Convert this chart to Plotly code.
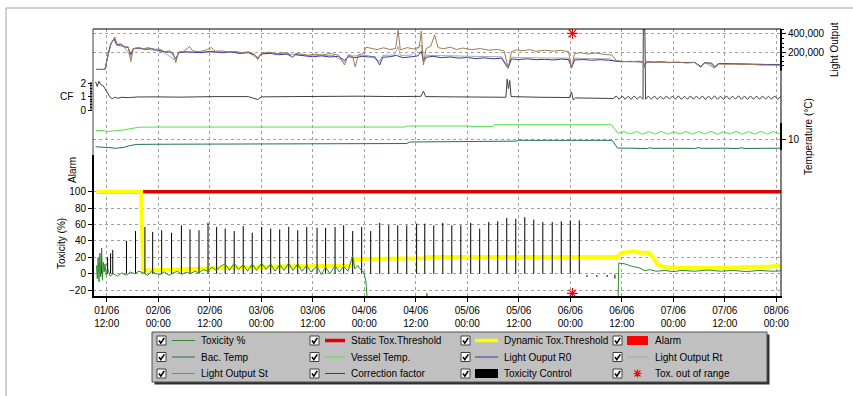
import plotly.graph_objects as go
import pandas as pd

# ---------------- data (hours are offsets from 01/06 09:00) ----------------
BASE = pd.Timestamp("2010-06-01 09:00")
X_START_H, X_END_H = -0.2, 160.1
X_TICK_START = "2010-06-01 12:00"

# light output, in thousands
LIGHT_ST = [(0.5, 12), (2.6, 12), (3.4, 180), (4.0, 290), (4.9, 367), (5.5, 270), (6.3, 280), (7.3, 250),
            (8.0, 262), (8.6, 95), (9.2, 240), (10.5, 250), (11.5, 238), (12.8, 250), (14, 228), (15.2, 236),
            (16.5, 205), (17.6, 215), (18.5, 190), (19.1, 85), (19.7, 200), (21, 212), (22.3, 262), (23, 215),
            (24.5, 205), (26, 222), (27.4, 250), (28.3, 210), (30, 215), (31.5, 198), (33, 210), (34.5, 190),
            (36, 205), (37.5, 175), (38.2, 120), (39, 190), (41, 200), (42.5, 182), (44, 195), (45.5, 185),
            (46.3, 140), (47, 188), (48.5, 178), (50, 165), (51.5, 180), (53, 170), (55, 185), (57, 168),
            (58.4, 60), (59.3, 175), (60.3, 150), (60.9, 40), (61.6, 170), (62.8, 185), (63.4, 255), (64.5, 240),
            (66, 228), (67.5, 248), (69, 230), (70.3, 240), (70.9, 440), (71.4, 225), (73, 250), (74.5, 235),
            (75.8, 255), (76.3, 430), (76.8, 60), (77.4, 240), (78.5, 265), (79.4, 390), (80.2, 250), (81.5, 238),
            (83, 255), (84.5, 230), (86, 245), (88, 228), (90, 240), (92, 222), (94, 230), (95.6, 215),
            (96.5, 25), (97.3, 205), (98.5, 225), (100, 215), (101.5, 228), (103, 210), (105, 222), (107, 212),
            (109, 220), (110.6, 205), (111.3, 25), (112, 185), (113.5, 195), (115, 180), (117, 192), (119, 175),
            (120.7, 170), (121.7, 110), (123, 100), (125, 95), (127, 102), (128.0, 90), (128.3, 30), (128.8, 95),
            (130.5, 88), (132, 92), (134, 85), (136, 92), (138, 82), (140, 88), (141.4, 35), (142.3, 85),
            (143.5, 78), (144.6, 25), (145.6, 72), (147, 68), (149, 72), (151, 65), (153, 68), (155, 60),
            (157, 62), (160, 58)]

LIGHT_R0 = [(0.5, 12), (2.6, 12), (3.4, 200), (4.0, 300), (4.7, 345), (5.3, 280), (6.2, 290), (7.2, 260),
            (8.0, 250), (8.6, 175), (9.2, 240), (10.5, 245), (12, 232), (13.5, 240), (15, 220), (16.5, 205),
            (18, 200), (19.1, 130), (19.8, 195), (21.5, 205), (23, 200), (25, 195), (27, 210), (28.5, 200),
            (30, 195), (32, 205), (34, 185), (36, 195), (37.5, 170), (38.2, 135), (39, 180), (41, 188),
            (43, 172), (45, 180), (46.3, 145), (47, 172), (49, 158), (51, 150), (53, 160), (55, 148),
            (57, 155), (58.4, 110), (59.3, 150), (61, 140), (62.5, 155), (64, 148), (65.5, 150), (66.6, 60),
            (67.3, 145), (69, 150), (70.5, 165), (72, 140), (74, 150), (75.5, 160), (76.3, 210), (76.8, 100),
            (77.5, 145), (79, 155), (81, 140), (83, 148), (85, 135), (87, 142), (89, 130), (91, 138),
            (93, 128), (95, 135), (96.5, 25), (97.3, 125), (99, 120), (101, 128), (103, 118), (105, 122),
            (107, 115), (109, 125), (110.6, 118), (111.3, 35), (112, 115), (114, 120), (116, 112), (118, 118),
            (120, 112), (121.7, 100), (123, 95), (125, 100), (127, 96), (128.0, 92), (128.3, 50), (128.8, 95),
            (130.5, 90), (132, 95), (134, 88), (136, 90), (138, 86), (140, 88), (141.4, 45), (142.3, 85),
            (144, 80), (144.6, 40), (145.6, 78), (147, 76), (149, 74), (151, 72), (153, 70), (155, 68),
            (157, 66), (160, 66)]

LIGHT_RT = [(0.5, 12), (2.6, 12), (3.4, 190), (4.0, 295), (4.8, 350), (5.5, 275), (7, 260), (8.6, 150),
            (9.2, 240), (12, 236), (16, 205), (19.1, 110), (19.8, 198), (24, 200), (28, 205), (32, 200),
            (36, 198), (38.2, 130), (39, 185), (44, 185), (48, 170), (52, 165), (56, 162), (58.4, 90),
            (59.3, 160), (62, 160), (64, 165), (66.6, 100), (67.3, 165), (70, 170), (70.9, 260), (71.4, 165),
            (74, 168), (76.3, 280), (76.8, 90), (77.5, 165), (80, 165), (84, 160), (88, 155), (92, 150),
            (95, 150), (96.5, 30), (97.3, 145), (100, 140), (104, 138), (108, 140), (110.6, 135), (111.3, 30),
            (112, 135), (116, 130), (120, 128), (121.7, 100), (124, 98), (128, 95), (128.3, 40), (128.8, 95),
            (132, 92), (136, 90), (140, 86), (141.4, 40), (142.3, 85), (144.6, 30), (145.6, 75), (150, 68),
            (155, 64), (160, 62)]

CORR_FACTOR = [(0.4, 2.1), (0.8, 1.75), (1.2, 2.15), (1.6, 1.9), (2.2, 1.8), (3.2, 1.3), (3.8, 0.95),
               (4.3, 0.85), (5.0, 0.95), (5.6, 0.88), (6.5, 0.95), (8, 0.92), (10, 0.97), (14, 0.98),
               (20, 0.96), (28, 1.0), (36, 1.0), (38.2, 0.78), (39, 0.98), (46, 1.0), (52, 1.02), (58, 1.0),
               (62, 1.03), (70, 1.0), (76.2, 1.02), (76.8, 1.4), (77.3, 1.0), (84, 0.98), (92, 0.97),
               (96, 0.95), (96.3, 2.3), (96.6, 1.6), (96.9, 2.2), (97.2, 1.0), (104, 0.95), (110.8, 0.93),
               (111.3, 1.35), (111.7, 0.75), (112.2, 0.9), (116, 0.87), (120, 0.85),
               (121.0, 0.86), (121.7, 1.04), (122.4, 0.80), (123.1, 1.05), (123.8, 0.80), (124.5, 1.03),
               (125.2, 0.79), (125.9, 1.05), (126.6, 0.81), (127.3, 1.02), (127.95, 0.80), (128.05, 9.0),
               (128.4, 5.5), (128.55, 0.80), (129.2, 1.04), (129.9, 0.80), (130.6, 1.05), (131.3, 0.79),
               (132.0, 1.03), (132.7, 0.80), (133.4, 1.05), (134.1, 0.81), (134.8, 1.04), (135.5, 0.80),
               (136.2, 1.06), (136.9, 0.79), (137.6, 1.03), (138.3, 0.80), (139.0, 1.05), (139.7, 0.80),
               (140.4, 1.04), (141.1, 0.81), (141.8, 1.05), (142.5, 0.78), (143.2, 1.04), (143.9, 0.80),
               (144.6, 1.06), (145.3, 0.80), (146.0, 1.03), (146.7, 0.79), (147.4, 1.05), (148.1, 0.80),
               (148.8, 1.04), (149.5, 0.81), (150.2, 1.06), (150.9, 0.80), (151.6, 1.04), (152.3, 0.79),
               (153.0, 1.05), (153.7, 0.80), (154.4, 1.04), (155.1, 0.80), (155.8, 1.05), (156.5, 0.81),
               (157.2, 1.03), (157.9, 0.80), (158.6, 1.05), (159.3, 0.80), (160.0, 1.0)]

VESSEL_TEMP = [(0.4, 11.22), (2.5, 11.18), (3.5, 11.05), (4.3, 11.15), (6, 11.2), (7.5, 11.35), (9, 11.55),
               (10.5, 11.65), (14, 11.68), (24, 11.66), (36, 11.7), (48, 11.68), (60, 11.68), (72.4, 11.68),
               (73.0, 11.82), (87.4, 11.82), (87.8, 11.74), (92.8, 11.74), (93.3, 12.0), (120.6, 12.0),
               (122.1, 10.82), (123.5, 11.05), (125.0, 10.72), (126.4, 11.08), (127.9, 10.70), (129.3, 11.06),
               (130.8, 10.72), (132.2, 11.08), (133.7, 10.70), (135.1, 11.05), (136.6, 10.72), (138.0, 11.08),
               (139.5, 10.70), (140.9, 11.06), (142.4, 10.73), (143.8, 11.08), (145.3, 10.70), (146.7, 11.05),
               (148.2, 10.72), (149.6, 11.10), (151.1, 10.70), (152.5, 11.06), (154.0, 10.72), (155.4, 11.08),
               (156.9, 10.70), (158.3, 11.05), (159.8, 10.75)]

BAC_TEMP = [(0.4, 8.98), (2.5, 8.95), (4.0, 8.85), (5.0, 8.76), (6.0, 8.82), (7.0, 8.9), (8.5, 9.15),
            (10.0, 9.3), (14, 9.32), (20, 9.33), (30, 9.36), (40, 9.38), (50, 9.40), (60, 9.41), (72.9, 9.42),
            (73.6, 9.63), (96.0, 9.65), (96.5, 9.73), (98.4, 9.75), (98.9, 9.86), (120.6, 9.86), (121.0, 9.7),
            (121.5, 9.2), (122.0, 8.8), (125, 8.78), (129, 8.74), (129.5, 8.86), (130, 8.76), (135, 8.78),
            (140, 8.75), (141, 8.86), (141.5, 8.76), (147, 8.78), (150, 8.74), (151, 8.84), (151.5, 8.75),
            (156, 8.76), (160, 8.78)]

TOXICITY = [(0.6, 10), (0.8, -6), (1.0, 20), (1.2, -10), (1.4, 25), (1.6, -4), (1.8, 30), (2.0, -8),
            (2.2, 14), (2.4, 2), (2.6, 12), (2.9, -2), (3.3, 5), (3.8, -3), (4.5, 0), (5.5, -3), (6.5, 1),
            (7.5, -2), (8.5, 2), (9.5, 0), (10.5, 3), (11.5, 1), (12.5, -2), (13.5, 3), (14.5, 0),
            (15.5, -1), (16.5, 2), (17.5, -2), (18.5, 1), (19.5, 3), (20.5, -1), (21.5, 2), (22.5, 0),
            (23.5, 3), (24.5, 1), (25.5, 5), (26.5, 3), (27.5, 8), (28.5, 4), (29.5, 9), (30.6, 12),
            (31.6, 4), (32.7, 13), (33.7, 5), (34.8, 11), (35.8, 3), (36.9, 12), (37.9, 4), (39.1, 13),
            (40.1, 5), (41.2, 12), (42.2, 3), (43.3, 11), (44.3, 4), (45.4, 13), (46.4, 4), (47.5, 12),
            (48.5, 3), (49.6, 10), (50.6, 2), (52.0, 9), (53.0, -1), (54.0, 8), (55.0, 0), (56.2, 10),
            (57.2, 2), (58.2, 9), (59.2, 3), (60.3, 22), (60.8, 6), (61.5, 10), (62.3, 4), (62.9, 2),
            (63.4, -10), (63.9, -45), (77.4, -45), (77.6, -24), (77.8, -45), (122.1, -45), (122.3, 13),
            (123.7, 12), (125.4, 9), (127.2, 7), (128.4, 3.5), (129.5, 5), (131, 3), (133, 4), (135, 2.5),
            (137, 4), (140, 3), (143, 4.5), (146, 3), (149, 4), (152, 2.5), (155, 4), (158, 3), (160, 3.5)]

DYN_THRESHOLD = [(0.7, 100), (11.0, 100), (11.5, 4), (14, 4.5), (20, 5.5), (26, 6.5), (32, 7.5), (40, 8.5),
                 (48, 9.2), (55, 9.5), (60.2, 9.6), (60.6, 18), (70, 18.5), (77.4, 18.8), (77.7, 20.5),
                 (100, 20.5), (122.0, 20.5), (122.8, 25), (124.5, 26.5), (125.8, 27.2), (127.5, 25.5),
                 (129.3, 25.5), (130.3, 20), (131.4, 11), (133, 8), (136, 7), (142, 7), (148, 7.5),
                 (153, 8), (157, 8.5), (160, 10)]

STATIC_THRESHOLD = [(0.7, 100), (160.1, 100)]

CTRL_HOURS = [1.8, 3.2, 3.9, 4.4, 7.6, 9.7, 11.9, 13.7, 15.8, 18.1, 20.4, 22.4, 24.5, 26.6, 28.6,
              30.6, 32.7, 34.8, 36.9, 39.1, 41.2, 43.3, 45.4, 47.5,
              49.6, 52.0, 54.0, 56.2, 58.2, 60.3, 62.4, 64.5, 66.6, 68.7, 70.8, 72.9, 75.2, 77.1, 79.2,
              81.3, 83.4, 85.5, 87.8, 89.9, 92.0, 94.1, 96.2, 98.3, 100.4, 102.5, 104.6, 106.8, 108.9,
              111.0, 113.1]
CTRL_HEIGHTS = [31, 20, 25, 29, 40, 52, 57, 51, 53, 50, 59, 54, 53, 62, 57,
                55, 52, 58, 50, 57, 55, 54, 57, 53,
                57, 56, 56, 57, 59, 52, 57, 52, 62, 59, 59, 59, 61, 61, 59,
                62, 59, 59, 62, 55, 63, 64, 68, 67, 69, 66, 63, 63, 64, 65, 65]
CTRL_SMALL = [(114.9, -4, -1.5), (117.2, -4, -1.5), (119.6, -4, -1.5), (121.4, -6, -1)]

OUT_OF_RANGE = [(111.5, 293), (111.5, -24)]

TOX_TICKS = [-20, 0, 20, 40, 60, 80, 100]
CF_TICKS = [0, 1, 2]
CF_MINOR = [0.2, 0.4, 0.6, 0.8, 1.2, 1.4, 1.6, 1.8]
TEMP_TICKS = [10]
LIGHT_TICKS = [200000, 400000]
LIGHT_MINOR = [50000, 100000, 150000, 250000, 300000, 350000, 450000]

C = {
    "tox": "#2f8a2f", "static": "#e00000", "dyn": "#ffff00", "alarm": "#ff0000",
    "bac": "#22704e", "vessel": "#50e050", "r0": "#3838a8", "rt": "#a8a8a8",
    "st": "#a07c50", "cf": "#404040", "ctrl": "#000000", "oor": "#ff0000",
}

LEGEND_ITEMS = [
    ("Toxicity %", "line", C["tox"]), ("Static Tox.Threshold", "thick", C["static"]),
    ("Dynamic Tox.Threshold", "thick", C["dyn"]), ("Alarm", "box", C["alarm"]),
    ("Bac. Temp", "line", C["bac"]), ("Vessel Temp.", "line", C["vessel"]),
    ("Light Ouput R0", "line", C["r0"]), ("Light Output Rt", "line", C["rt"]),
    ("Light Output St", "line", C["st"]), ("Correction factor", "line", C["cf"]),
    ("Toxicity Control", "box", C["ctrl"]), ("Tox. out of range", "star", C["oor"]),
]

# ---------------- geometry (pixels) ----------------
W, H = 853, 396
PL, PR, PT, PB = 93, 781, 29, 297


def fx(px):
    return (px - PL) / (PR - PL)


def fy(py):
    return (PB - py) / (PB - PT)


def axis_range(va, pa, vb, pb):
    k = (vb - va) / (pa - pb)  # value per pixel (upwards)
    return [va - (PB - pa) * k, va + (pa - PT) * k]


def t(h):
    return BASE + pd.Timedelta(hours=h)


def xs(pairs):
    return [t(p[0]) for p in pairs]


def ys(pairs, k=1.0):
    return [p[1] * k for p in pairs]


FONT = dict(family="Liberation Sans, Arial, sans-serif", size=10, color="#000000")
GRID = dict(showgrid=True, gridcolor="#a0a0a0", gridwidth=1, griddash="3px,3px")

fig = go.Figure()


def line(pairs, axis, color, width=1, k=1.0):
    fig.add_trace(go.Scatter(x=xs(pairs), y=ys(pairs, k), yaxis=axis, mode="lines",
                             line=dict(color=color, width=width), showlegend=False, hoverinfo="skip"))


line(LIGHT_RT, "y4", C["rt"], k=1000)
line(LIGHT_R0, "y4", C["r0"], k=1000)
line(LIGHT_ST, "y4", C["st"], k=1000)
line(CORR_FACTOR, "y2", C["cf"])
line(VESSEL_TEMP, "y3", C["vessel"])
line(BAC_TEMP, "y3", C["bac"])
line(STATIC_THRESHOLD, "y", C["static"], width=3.5)
line(DYN_THRESHOLD, "y", C["dyn"], width=4)

bx, by = [], []
for h, v in zip(CTRL_HOURS, CTRL_HEIGHTS):
    bx += [t(h), t(h), None]
    by += [0, v, None]
for h, lo, hi in CTRL_SMALL:
    bx += [t(h), t(h), None]
    by += [lo, hi, None]
fig.add_trace(go.Scatter(x=bx, y=by, mode="lines", line=dict(color=C["ctrl"], width=1),
                         showlegend=False, hoverinfo="skip"))

line(TOXICITY, "y", C["tox"])

fig.add_trace(go.Scatter(x=xs(OUT_OF_RANGE), y=ys(OUT_OF_RANGE), mode="markers",
                         marker=dict(symbol="asterisk-open", size=9, color=C["oor"],
                                     line=dict(color=C["oor"], width=1.2)),
                         showlegend=False, hoverinfo="skip"))

# ---------------- shapes ----------------
shapes = []


def seg(x0, y0, x1, y1, color="#000000", width=1):
    shapes.append(dict(type="line", xref="paper", yref="paper", x0=fx(x0), y0=fy(y0), x1=fx(x1), y1=fy(y1),
                       line=dict(color=color, width=width)))


def rect(x0, y0, x1, y1, fill, color=None, width=0):
    shapes.append(dict(type="rect", xref="paper", yref="paper", x0=fx(x0), y0=fy(y0), x1=fx(x1), y1=fy(y1),
                       fillcolor=fill, line=dict(color=color or fill, width=width)))


def path(points_list, color, width):
    d = ""
    for pts in points_list:
        d += "M " + " L ".join(f"{fx(px):.5f},{fy(py):.5f}" for px, py in pts) + " "
    shapes.append(dict(type="path", xref="paper", yref="paper", path=d.strip(),
                       line=dict(color=color, width=width)))


# outer panel border
seg(6, 8, W, 8, "#a0a0a0", 1)
seg(6, 8, 6, H, "#a0a0a0", 1)

# plot frame & axis segments
seg(PL, PT, PR, PT, "#000000", 1)
seg(PL, PT, PL, PB, "#404040", 1)
seg(PR, PT, PR, PB, "#000000", 1)
seg(PL - 1, PB, PR + 1, PB, "#000000", 2)
seg(PL - 2, 82, PL - 2, 110.5, "#000000", 1)     # CF axis
seg(PL, 155, PL, 186, "#000000", 2)               # Alarm axis
seg(PL, 186, PL, PB, "#000000", 2)                # Toxicity axis
seg(PR, PT, PR, 70.5, "#000000", 2)               # Light output axis
seg(PR, 123, PR, 150, "#000000", 2)               # Temperature axis

# legend
LEG = (152, 332, 767, 382)
COL_CHECK_X = [157, 310, 461, 613]
COL_SAMPLE = [(172, 195), (325, 345), (475, 498), (627, 648)]
COL_TEXT_X = [199, 349, 502, 653]
ROW_Y = [340.5, 357, 373.5]

rect(LEG[0] + 2.5, LEG[1] + 2.5, LEG[2] + 2.5, LEG[3] + 2.5, "#303030")
rect(LEG[0], LEG[1], LEG[2], LEG[3], "#c0c0c0", "#505050", 1)

annotations = []
for i, (name, kind, color) in enumerate(LEGEND_ITEMS):
    r, c = divmod(i, 4)
    yc = ROW_Y[r]
    cx = COL_CHECK_X[c]
    rect(cx, yc - 4.5, cx + 9, yc + 4.5, "#ffffff", "#404040", 1)
    path([[(cx + 2, yc), (cx + 3.8, yc + 2.6), (cx + 7.3, yc - 2.6)]], "#000000", 1.6)
    s0, s1 = COL_SAMPLE[c]
    if kind == "line":
        seg(s0, yc, s1, yc, color, 1)
    elif kind == "thick":
        seg(s0, yc, s1, yc, color, 3.5)
    elif kind == "box":
        rect(s0, yc - 4.5, s1, yc + 4.5, color)
    else:
        mx = (s0 + s1) / 2
        path([[(mx - 4, yc), (mx + 4, yc)], [(mx, yc - 4), (mx, yc + 4)],
              [(mx - 3, yc - 3), (mx + 3, yc + 3)], [(mx - 3, yc + 3), (mx + 3, yc - 3)]], color, 1.2)
    annotations.append(dict(xref="paper", yref="paper", x=fx(COL_TEXT_X[c]), y=fy(yc), text=name,
                            showarrow=False, xanchor="left", yanchor="middle", font=FONT))


def title(text, px, py, angle=-90, xanchor="center"):
    annotations.append(dict(xref="paper", yref="paper", x=fx(px), y=fy(py), text=text, showarrow=False,
                            textangle=angle, xanchor=xanchor, yanchor="middle", font=FONT))


title("Light Output", 835, 50)
title("Temperature (°C)", 808, 137)
title("Alarm", 72, 170)
title("Toxicity (%)", 61, 244)
title("CF", 75, 96.7, angle=0, xanchor="right")

common_y = dict(zeroline=False, showline=False, ticks="outside", ticklen=4, tickcolor="#000000",
                tickfont=FONT, automargin=False, fixedrange=True)

fig.update_layout(
    width=W, height=H, template="none",
    paper_bgcolor="#ffffff", plot_bgcolor="#ffffff",
    margin=dict(l=PL, r=W - PR, t=PT, b=H - PB, pad=0),
    showlegend=False,
    xaxis=dict(type="date", range=[t(X_START_H), t(X_END_H)], tick0=X_TICK_START, dtick=43200000,
               tickformat="%d/%m<br>%H:%M", ticks="outside", ticklen=4, tickcolor="#000000",
               showline=False, zeroline=False, tickfont=FONT, automargin=False, fixedrange=True, **GRID),
    yaxis=dict(range=axis_range(0, 273.7, 100, 191.7), tickmode="array", tickvals=TOX_TICKS,
               **GRID, **common_y),
    yaxis2=dict(overlaying="y", side="left", anchor="x", range=axis_range(0, 110.0, 2, 83.2),
                tickmode="array", tickvals=CF_TICKS, showgrid=False,
                minor=dict(tickmode="array", tickvals=CF_MINOR, ticklen=2, ticks="outside",
                           tickcolor="#000000", showgrid=False), **common_y),
    yaxis3=dict(overlaying="y", side="right", anchor="x", range=axis_range(10, 139.3, 12, 124.7),
                tickmode="array", tickvals=TEMP_TICKS, **GRID, **common_y),
    yaxis4=dict(overlaying="y", side="right", anchor="x", range=axis_range(0, 70.5, 400000, 33.9),
                tickmode="array", tickvals=LIGHT_TICKS, tickformat=",d",
                minor=dict(tickmode="array", tickvals=LIGHT_MINOR, ticklen=2, ticks="outside",
                           tickcolor="#000000", showgrid=False), **GRID, **common_y),
    shapes=shapes, annotations=annotations,
)

fig.write_html("out.html", config={"displayModeBar": False},
               post_script="document.body.style.margin='0';document.body.style.overflow='hidden';")
